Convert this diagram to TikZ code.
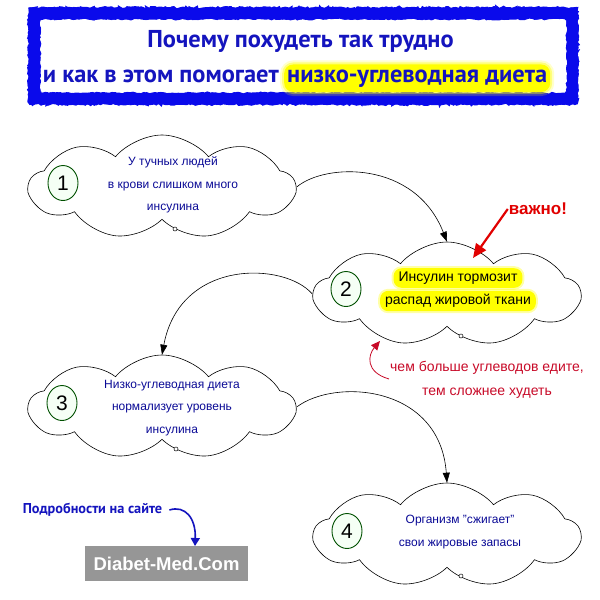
\documentclass[tikz,border=0pt]{standalone}
\usepackage{fontspec}
\setmainfont{Liberation Sans}
\newfontfamily\titlefont{PT Sans}
\usetikzlibrary{shapes.symbols,shapes.geometric,decorations.pathmorphing,arrows.meta}
\definecolor{titleblue}{RGB}{20,20,190}
\definecolor{frameblue}{RGB}{10,10,235}
\definecolor{cloudtext}{RGB}{10,10,150}
\definecolor{redtext}{RGB}{200,10,40}
\definecolor{imp}{RGB}{225,0,0}
\definecolor{hl}{RGB}{255,255,0}
\definecolor{numgreen}{RGB}{0,80,0}
\definecolor{sitegray}{RGB}{150,150,150}
\tikzset{
  cloudbox/.style={cloud, draw=black, fill=white, line width=0.6pt, cloud puffs=9, cloud puff arc=100, aspect=2.5, minimum width=266pt, minimum height=104pt, inner sep=0pt},
  numbox/.style={ellipse, draw=numgreen, line width=0.9pt, fill=green!4, minimum width=30pt, minimum height=35pt, inner sep=0pt, font=\fontsize{21}{21}\selectfont},
  cloudtxt/.style={align=center, text=cloudtext, font=\fontsize{12}{22.5}\selectfont, inner sep=0pt},
  hltxt/.style={fill=hl, rounded corners=8pt, inner xsep=5pt, inner ysep=3.5pt, font=\fontsize{14}{16}\selectfont,
    preaction={draw=hl, line width=4pt, draw opacity=0.35}},
  titletxt/.style={text=titleblue, font=\titlefont\bfseries\fontsize{24.4}{28}\selectfont, inner sep=0pt},
  conn/.style={draw=black, line width=0.6pt, -{Triangle[length=10pt,width=7pt]}},
  bubble/.style={circle, draw=black, fill=white, line width=0.5pt, minimum size=4pt, inner sep=0pt},
}
\begin{document}
\begin{tikzpicture}[x=1pt,y=-1pt]
\useasboundingbox (0,0) rectangle (600,600);
\fill[white] (0,0) rectangle (600,600);
% title frame
\draw[frameblue, line width=12pt, decoration={random steps, segment length=3pt, amplitude=0.9pt}, decorate] (34.5,13.5) rectangle (572,98.5);
\draw[frameblue, line width=3pt, decoration={random steps, segment length=2pt, amplitude=1.4pt}, decorate] (30,9) rectangle (576.5,103);
\fill[white, decoration={random steps, segment length=2.5pt, amplitude=1pt}, decorate] (41,20.5) rectangle (566,91.5);
% title
\node[titletxt, anchor=base] (t1) at (300.5,47) {Почему похудеть так трудно};
\node[titletxt, anchor=base east] (t2a) at (279,82) {и как в этом помогает};
\node[titletxt, anchor=base west, fill=hl, rounded corners=9pt, inner xsep=3pt, inner ysep=5pt,
  preaction={draw=hl, line width=8pt, draw opacity=0.2},
  preaction={draw=hl, line width=4pt, draw opacity=0.4}] (t2b) at (284,82) {низко-углеводная диета};
% clouds
\node[cloudbox] (c1) at (162,187) {};
\node[cloudbox] (c2) at (447,294) {};
\node[cloudbox] (c3) at (162,407) {};
\node[cloudbox] (c4) at (447,535) {};
\node[bubble] (b1) at (175,229) {};
\node[bubble] (b2) at (461,336) {};
\node[bubble] (b3) at (176,449) {};
\node[bubble] (b4) at (461,576) {};
% numbers
\node[numbox] (n1) at (63,183) {1};
\node[numbox] (n2) at (346,289) {2};
\node[numbox] (n3) at (62,403) {3};
\node[numbox] (n4) at (347,531) {4};
% texts
\node[cloudtxt] (x1) at (173,185) {У тучных людей\\в крови слишком много\\инсулина};
\node[cloudtxt] (x3) at (172,408) {Низко-углеводная диета\\нормализует уровень\\инсулина};
\node[cloudtxt] (x4) at (460,532) {Организм "сжигает"\\свои жировые запасы};
\node[hltxt] (x2a) at (458,278) {Инсулин тормозит};
\node[hltxt] (x2b) at (458,301) {распад жировой ткани};
% connectors
\draw[conn] (c1.east) .. controls (325,163) and (415,160) .. (c2.north);
\draw[conn] (c2.west) .. controls (285,262) and (180,258) .. (c3.north);
\draw[conn] (c3.east) .. controls (335,378) and (440,385) .. (c4.north);
% important
\node[text=imp, font=\bfseries\fontsize{17}{20}\selectfont, inner sep=1pt] (imp) at (538,209) {важно!};
\draw[imp, line width=2.2pt, -{Triangle[length=14pt,width=12pt]}] (imp.west) -- (473,258);
% red note
\node[text=redtext, align=center, font=\fontsize{14}{24.5}\selectfont, inner sep=0pt] (note) at (487,380) {чем больше углеводов едите,\\тем сложнее худеть};
\coordinate (notearr) at (380,341);
\draw[redtext, line width=0.8pt, -{Triangle[length=9pt,width=8pt]}] (389,379) .. controls (365,372) and (368,355) .. (notearr);
% site
\node[text=titleblue, font=\titlefont\bfseries\fontsize{14.3}{16}\selectfont, inner sep=1pt] (more) at (92.5,510) {Подробности на сайте};
\node[fill=sitegray, text=white, font=\bfseries\fontsize{18.5}{20}\selectfont, minimum width=163pt, minimum height=35pt, inner sep=0pt] (site) at (166.5,563.5) {Diabet-Med.Com};
\draw[titleblue, line width=1.6pt, -{Triangle[length=8pt,width=9pt]}] (more.east) ++(6,0) .. controls (185,505) and (196,518) .. (195,546);
\end{tikzpicture}
\end{document}
